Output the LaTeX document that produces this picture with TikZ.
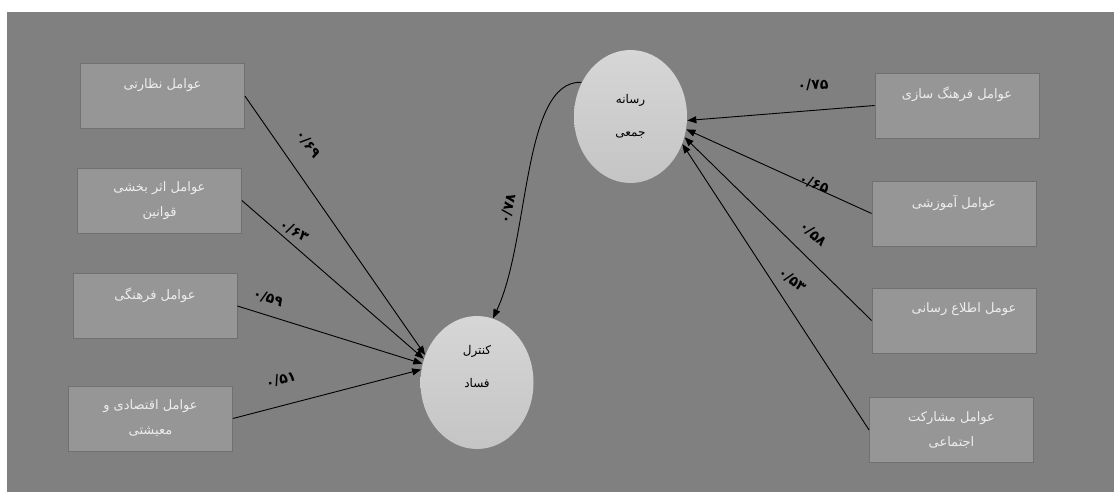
\documentclass[tikz,border=0pt]{standalone}
\usepackage{fontspec}
\usepackage{tikz}
\usetikzlibrary{arrows.meta}
\usetikzlibrary{shapes.geometric}
\TeXXeTstate=1
\newfontfamily\farsi[Script=Arabic]{DejaVu Sans}
\definecolor{canvas}{HTML}{808080}
\definecolor{boxfill}{HTML}{969696}
\definecolor{boxedge}{HTML}{707070}
\definecolor{boxtext}{HTML}{EDEDED}
\tikzset{->/.style = {-{Triangle[length=9pt,width=7pt]}}}
\tikzset{factor/.style = {draw=boxedge, line width=0.8pt, fill=boxfill,
                          minimum width=164pt, minimum height=65pt, inner sep=0pt,
                          align=center, text=boxtext,
                          font=\farsi\fontsize{13}{25}\selectfont},
         latent/.style = {ellipse, top color=black!16, bottom color=black!23,
                          minimum width=113pt, minimum height=133pt, inner sep=0pt,
                          align=center, font=\farsi\fontsize{12}{33}\selectfont},
         coef/.style = {font=\farsi\bfseries\fontsize{14}{16}\selectfont, inner sep=0pt}}

\begin{document}
\begin{tikzpicture}[x=1pt, y=-1pt, line width=0.9pt]
    \useasboundingbox (0, 0) rectangle (1114, 492);
    \fill [white] (0, 0) rectangle (1114, 492);
    \fill [canvas] (7, 12) rectangle (1114, 492);

    % latent variables
    \node [latent] (rasane) at (630.5, 116.5) {\beginR رسانه\endR\\ \beginR جمعی\endR};
    \node [latent] (kontrol) at (477, 382.5) {\beginR کنترل\endR\\ \beginR فساد\endR\\ \mbox{}};

    % left factors
    \node [factor] (nezarat)  at (162.5, 96)  {\beginR عوامل نظارتی\endR\\ \mbox{}};
    \node [factor] (asar)     at (159.5, 200.5) {\beginR عوامل اثر بخشی\endR\\ \beginR قوانین\endR};
    \node [factor] (farhangi) at (155, 306)   {\beginR عوامل فرهنگی\endR\\ \mbox{}};
    \node [factor] (eqtesadi) at (150.5, 418.5) {\beginR عوامل اقتصادی و\endR\\ \beginR معیشتی\endR};

    % right factors
    \node [factor] (farhangsazi) at (957, 105.5) {\beginR عوامل فرهنگ سازی\endR\\ \mbox{}};
    \node [factor] (amuzeshi)    at (954, 213.5) {\beginR عوامل آموزشی\endR\\ \mbox{}};
    \node [factor] (ettela)      at (954, 320.5) {\hspace*{20pt}\beginR عومل اطلاع رسانی\endR\\ \mbox{}};
    \node [factor] (mosharekat)  at (951.5, 430) {\beginR عوامل مشارکت\endR\\ \beginR اجتماعی\endR};

    \draw [->] (nezarat.east)  -- (kontrol.152);
    \draw [->] (asar.east)     -- (kontrol.156);
    \draw [->] (farhangi.east) -- (kontrol.161);
    \draw [->] (eqtesadi.east) -- (kontrol.167);

    \draw [->] (farhangsazi.west) -- (rasane.-4);
    \draw [->] (amuzeshi.west)    -- (rasane.-13);
    \draw [->] (ettela.west)      -- (rasane.-21);
    \draw [->] (mosharekat.west)  -- (rasane.-28);

    \draw [->] (rasane.145) .. controls (522, 80) and (530, 240) .. (kontrol.76);

    % path coefficients
    \node [coef, rotate=-52] (c1) at (308, 144) {۰/۶۹};
    \node [coef, rotate=-28] (c2) at (294, 231) {۰/۶۳};
    \node [coef, rotate=-18] (c3) at (268, 298) {۰/۵۹};
    \node [coef, rotate=14]  (c4) at (281, 380) {۰/۵۱};
    \node [coef, rotate=3]   (c5) at (813, 85)  {۰/۷۵};
    \node [coef, rotate=-20] (c6) at (814, 184) {۰/۶۵};
    \node [coef, rotate=-42] (c7) at (813, 234) {۰/۵۸};
    \node [coef, rotate=-38] (c8) at (792, 280) {۰/۵۳};
    \node [coef, rotate=78]  (c9) at (508, 209) {۰/۷۸};
  \end{tikzpicture}
\end{document}
